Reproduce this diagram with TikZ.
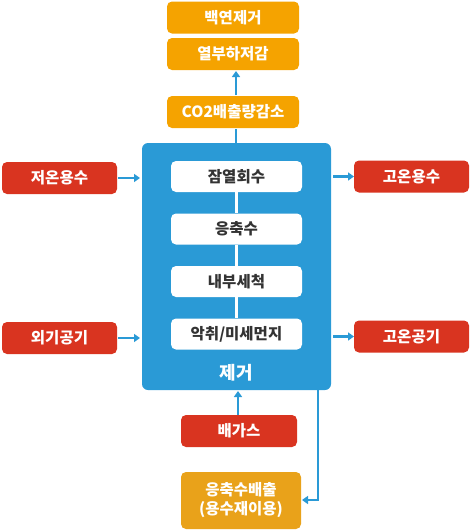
\documentclass[tikz,border=0pt]{standalone}
\usepackage{fontspec}
\setmainfont{Noto Sans CJK KR}
\usetikzlibrary{arrows.meta}
\definecolor{orng}{HTML}{F5A300}
\definecolor{orng2}{HTML}{E9A21A}
\definecolor{redb}{HTML}{D93420}
\definecolor{blueb}{HTML}{2A9AD6}
\definecolor{txtg}{HTML}{333333}
\tikzset{
  box/.style={rounded corners=5pt, minimum height=32pt, inner sep=0pt, text=white, font=\fontsize{15.5}{17}\selectfont\bfseries},
  obox/.style={box, fill=orng, minimum width=132pt},
  rbox/.style={box, fill=redb, minimum width=115pt},
  wbox/.style={box, fill=white, text=txtg, minimum width=131pt, minimum height=31pt},
  conn/.style={blueb, line width=2.5pt},
  arr/.style={conn, -{Triangle[length=6pt,width=8pt]}},
}
\begin{document}
\begin{tikzpicture}[x=1pt,y=-1pt]
\useasboundingbox (0,0) rectangle (473,531);
% blue main box
\node[fill=blueb, rounded corners=6pt, minimum width=189pt, minimum height=247pt, inner sep=0pt] (main) at (236.5,266.5) {};
\node[text=white, font=\fontsize{18}{20}\selectfont\bfseries] (rem) at (236.5,373) {제거};
% white inner boxes
\node[wbox] (w1) at (236.5,176.5) {잠열회수};
\node[wbox] (w2) at (236.5,229) {응축수};
\node[wbox] (w3) at (236.5,281.5) {내부세척};
\node[wbox] (w4) at (236.5,334) {악취/미세먼지};
\draw[white, line width=2.5pt] (w1) -- (w2);
\draw[white, line width=2.5pt] (w2) -- (w3);
\draw[white, line width=2.5pt] (w3) -- (w4);
% top orange boxes
\node[obox] (t1) at (233,17.5) {백연제거};
\node[obox] (t2) at (233,54) {열부하저감};
\node[obox] (t3) at (233,112) {CO2배출량감소};
\coordinate (a1) at (236,95);
\coordinate (a2) at (236,71);
\coordinate (a3) at (236,129);
\coordinate (a4) at (236,144);
\draw[arr] (a1) -- (a2);
\draw[conn] (a3) -- (a4);
% left red boxes
\node[rbox] (l1) at (59.5,178) {저온용수};
\node[rbox] (l2) at (59.5,338) {외기공기};
\coordinate (la1) at (118,178);
\coordinate (la2) at (140,178);
\coordinate (lb1) at (118,338);
\coordinate (lb2) at (140,338);
\draw[arr] (la1) -- (la2);
\draw[arr] (lb1) -- (lb2);
% right red boxes
\node[rbox] (r1) at (411.5,176.5) {고온용수};
\node[rbox] (r2) at (411.5,336.5) {고온공기};
\coordinate (ra1) at (333,176.5);
\coordinate (ra2) at (354,176.5);
\coordinate (rb1) at (333,336.5);
\coordinate (rb2) at (354,336.5);
\draw[arr] (ra1) -- (ra2);
\draw[arr] (rb1) -- (rb2);
% bottom boxes
\node[rbox, minimum width=116pt] (g) at (239,431) {배가스};
\node[box, fill=orng2, minimum width=120pt, minimum height=57pt, align=center, font=\fontsize{15.5}{19}\selectfont\bfseries] (c) at (241,500.5) {응축수배출\\(용수재이용)};
\coordinate (g1) at (238,415);
\coordinate (g2) at (238,391);
\draw[arr] (g1) -- (g2);
\coordinate (d0) at (318,390);
\coordinate (dn) at (318,500);
\coordinate (d2) at (302,500);
\draw[conn, -{Triangle[length=6pt,width=8pt]}] (d0) -- (dn) -- (d2);
\end{tikzpicture}
\end{document}
